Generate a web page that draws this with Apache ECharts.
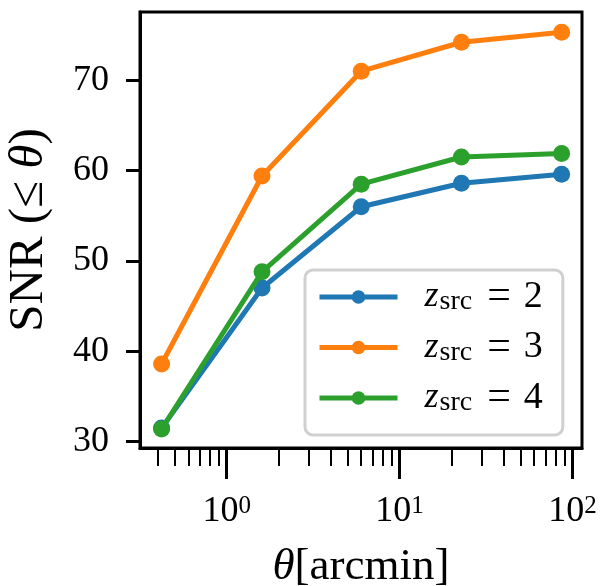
<!DOCTYPE html>
<html>
<head>
<meta charset="utf-8">
<script src="https://cdn.jsdelivr.net/npm/echarts@6/dist/echarts.min.js"></script>
<style>
  html, body { margin: 0; padding: 0; background: #fff; }
  #chart { width: 603px; height: 586px; }
</style>
</head>
<body>
<div id="chart"></div>
<script>
// data
const theta = [0.42, 1.6, 6.0, 22.8, 86.6]
const snrZ2 = [31.5, 47.0, 56.0, 58.6, 59.6]
const snrZ3 = [38.6, 59.4, 71.0, 74.2, 75.3]
const snrZ4 = [31.4, 48.8, 58.5, 61.5, 61.9]
const seriesNames = ['2', '3', '4']
const seriesColors = ['#1f77b4', '#ff7f0e', '#2ca02c']

// ticks
const xMajorTicks = [1, 10, 100]
const xMinorTicks = [0.4, 0.5, 0.6, 0.7, 0.8, 0.9, 2, 3, 4, 5, 6, 7, 8, 9, 20, 30, 40, 50, 60, 70, 80, 90]
const yTicks = [30, 40, 50, 60, 70]

const serif = 'Liberation Serif'
const chart = echarts.init(document.getElementById('chart'))

function makeSeries (name, values, color, z) {
  return {
    name: name,
    type: 'line',
    z: z,
    data: theta.map((t, i) => [t, values[i]]),
    symbol: 'circle',
    symbolSize: 17,
    showAllSymbol: true,
    itemStyle: { color: color },
    lineStyle: { color: color, width: 5 },
    emphasis: { disabled: true },
    animation: false
  }
}

chart.setOption({
  backgroundColor: '#fff',
  animation: false,
  grid: {
    left: 140,
    top: 12,
    width: 442,
    height: 436,
    outerBoundsMode: 'none',
    containLabel: false,
    show: true,
    borderColor: '#000',
    borderWidth: 3,
    backgroundColor: 'transparent'
  },
  legend: {
    left: 305,
    top: 270,
    orient: 'vertical',
    data: seriesNames,
    itemWidth: 78,
    itemHeight: 17,
    itemGap: 8.5,
    padding: [6, 20, 16, 12],
    backgroundColor: '#fff',
    borderColor: '#d0d0d0',
    borderWidth: 3,
    borderRadius: 8,
    lineStyle: { width: 5 },
    formatter: n => '{z|z}{s|src}{e|=}{n|' + n + '}',
    textStyle: {
      fontFamily: serif,
      fontStyle: 'italic',
      fontSize: 36,
      lineHeight: 36,
      color: '#000',
      rich: {
        z: { fontFamily: serif, fontStyle: 'italic', fontSize: 36, lineHeight: 36, padding: [0, 0, 0, 22], color: '#000' },
        s: { fontFamily: serif, fontStyle: 'normal', fontSize: 28, lineHeight: 28, padding: [10, 4, 0, 1], color: '#000' },
        e: { fontFamily: serif, fontStyle: 'normal', fontSize: 42, lineHeight: 36, padding: [0, 13, 0, 11], color: '#000' },
        n: { fontFamily: serif, fontStyle: 'normal', fontSize: 38, lineHeight: 36, color: '#000' }
      }
    }
  },
  xAxis: [{
    type: 'log',
    logBase: 10,
    min: 0.315,
    max: 113.6,
    name: '{i|θ}[arcmin]',
    nameLocation: 'middle',
    nameGap: 97,
    nameTextStyle: {
      fontFamily: serif,
      fontSize: 45,
      color: '#000',
      rich: {
        i: { fontFamily: serif, fontStyle: 'italic', fontSize: 45, color: '#000' }
      }
    },
    axisLine: { show: true, lineStyle: { color: '#000', width: 3 } },
    axisTick: { show: true, customValues: xMajorTicks, length: 31, lineStyle: { color: '#000', width: 3 } },
    axisLabel: {
      customValues: xMajorTicks,
      margin: 46,
      formatter: v => '{b|10}{s|' + Math.round(Math.log10(v)) + '}',
      rich: {
        b: { fontFamily: serif, fontSize: 36, color: '#000', verticalAlign: 'bottom', lineHeight: 36 },
        s: { fontFamily: serif, fontSize: 25, color: '#000', verticalAlign: 'top', lineHeight: 25, padding: [0, 0, 12, 0] }
      }
    },
    splitLine: { show: false },
    minorTick: { show: false }
  }, {
    type: 'log',
    logBase: 10,
    min: 0.315,
    max: 113.6,
    position: 'bottom',
    axisLine: { show: false },
    axisTick: { show: true, customValues: xMinorTicks, length: 18, lineStyle: { color: '#000', width: 2 } },
    axisLabel: { show: false },
    splitLine: { show: false }
  }],
  yAxis: {
    type: 'value',
    min: 29.3,
    max: 77.55,
    name: 'SNR (≤ {i|θ})',
    nameLocation: 'middle',
    nameRotate: 90,
    nameGap: 86,
    nameTextStyle: {
      fontFamily: serif,
      fontSize: 49,
      color: '#000',
      rich: {
        i: { fontFamily: serif, fontStyle: 'italic', fontSize: 49, color: '#000' }
      }
    },
    axisLine: { show: true, lineStyle: { color: '#000', width: 3 } },
    axisTick: { show: true, customValues: yTicks, length: 14, lineStyle: { color: '#000', width: 3 } },
    axisLabel: { customValues: yTicks, margin: 31, fontFamily: serif, fontSize: 36, color: '#000' },
    splitLine: { show: false }
  },
  series: [
    makeSeries(seriesNames[0], snrZ2, seriesColors[0], 2),
    makeSeries(seriesNames[1], snrZ3, seriesColors[1], 3),
    makeSeries(seriesNames[2], snrZ4, seriesColors[2], 4)
  ]
})
</script>
</body>
</html>
